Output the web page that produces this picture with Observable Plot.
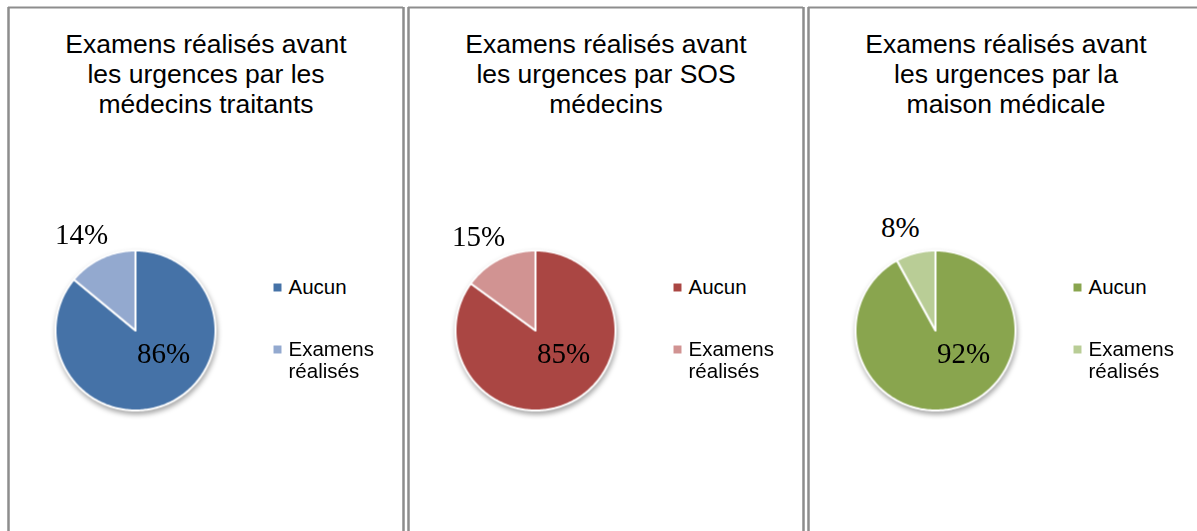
<!DOCTYPE html>
<html>
<head>
<meta charset="utf-8">
<script src="https://cdn.jsdelivr.net/npm/d3@7"></script>
<script src="https://cdn.jsdelivr.net/npm/@observablehq/plot@0.6"></script>
<style>
  html, body { margin: 0; padding: 0; background: #fff; overflow: hidden; }
  #chart g[aria-label="line"] { filter: drop-shadow(1px 3px 2.5px rgba(0,0,0,0.35)); }
</style>
</head>
<body>
<div id="chart"></div>
<script>
// ---- data ----
const panels = ["Médecins traitants", "SOS médecins", "Maison médicale"];
const titles = [
  "Examens réalisés avant\nles urgences par les\nmédecins traitants",
  "Examens réalisés avant\nles urgences par SOS\nmédecins",
  "Examens réalisés avant\nles urgences par la\nmaison médicale"
];
const categories = ["Aucun", "Examens réalisés"];
const legendLabels = ["Aucun", "Examens\nréalisés"];
const aucunValues = [86, 85, 92];
const examensValues = [14, 15, 8];
const aucunColors = ["#4572A7", "#AA4643", "#89A54E"];
const examensColors = ["#93A9CF", "#D19392", "#B9CD96"];

// ---- build tables ----
const seriesValues = [aucunValues, examensValues];
const seriesColors = [aucunColors, examensColors];
const keys = [], keyColors = [];
const slicePts = [], labels = [], legend = [];
panels.forEach((p, i) => {
  const vals = seriesValues.map(s => s[i]);
  const total = d3.sum(vals);
  let a0 = 0;
  categories.forEach((c, j) => {
    const key = p + "|" + c;
    keys.push(key); keyColors.push(seriesColors[j][i]);
    const a1 = a0 + vals[j] / total * 2 * Math.PI;
    const n = Math.max(2, Math.ceil((a1 - a0) / (Math.PI / 180)));
    slicePts.push({panel: p, key, x: 0, y: 0});
    for (let k = 0; k <= n; k++) {
      const a = a0 + (a1 - a0) * k / n;
      slicePts.push({panel: p, key, x: Math.sin(a), y: Math.cos(a)});
    }
    slicePts.push({panel: p, key, x: 0, y: 0});
    const m = (a0 + a1) / 2;
    labels.push({panel: p, j, text: vals[j] + "%", mx: Math.sin(m), my: Math.cos(m)});
    legend.push({panel: p, key, j, label: legendLabels[j]});
    a0 = a1;
  });
});
const titleData = panels.map((p, i) => ({panel: p, title: titles[i]}));

// ---- layout constants (pie radius = 1 unit = 80px) ----
const xDomain = [-1.5875, 3.35];
const yDomain = [-2.5125, 4.0375];
const legendX = 1.775, legendY0 = 0.5375, legendStep = -0.775;
const outR = 1.32;

const plot = Plot.plot({
  width: 1211,
  height: 531,
  marginLeft: 8,
  marginRight: 8,
  marginTop: 7,
  marginBottom: 0,
  style: {maxWidth: "none", background: "#fff", overflow: "visible"},
  fx: {domain: panels, paddingInner: 0.0125, paddingOuter: 0, axis: null},
  x: {domain: xDomain, axis: null},
  y: {domain: yDomain, axis: null},
  color: {type: "ordinal", domain: keys, range: keyColors},
  marks: [
    Plot.ruleX(xDomain, {stroke: "#8d8d8d", strokeWidth: 2.5}),
    Plot.ruleY([yDomain[1]], {stroke: "#8d8d8d", strokeWidth: 2}),
    Plot.text(titleData, {
      fx: "panel", text: "title", frameAnchor: "top", lineAnchor: "top",
      dy: 24, fontSize: 26.5, lineHeight: 30 / 26.5,
      fontFamily: "Liberation Sans, Arial, sans-serif", fill: "#000"
    }),
    Plot.line(slicePts, {
      fx: "panel", x: "x", y: "y", z: "key", fill: "key",
      stroke: "#fff", strokeWidth: 2, strokeLinejoin: "round", curve: "linear"
    }),
    Plot.text(labels.filter(d => d.j === 0), {
      fx: "panel", x: () => 0, y: () => 0, text: "text",
      dx: 28, dy: 23, fontSize: 29, lineAnchor: "middle",
      fontFamily: "Liberation Serif, serif", fill: "#000"
    }),
    Plot.text(labels.filter(d => d.j !== 0), {
      fx: "panel", x: d => d.mx * outR, y: d => d.my * outR, text: "text",
      dx: -9, fontSize: 29, lineAnchor: "middle",
      fontFamily: "Liberation Serif, serif", fill: "#000"
    }),
    Plot.dot(legend, {
      fx: "panel", x: () => legendX, y: d => legendY0 + d.j * legendStep,
      fill: "key", symbol: "square", r: 4.5, stroke: "none"
    }),
    Plot.text(legend, {
      fx: "panel", x: () => legendX, y: d => legendY0 + d.j * legendStep,
      text: "label", textAnchor: "start", lineAnchor: "top",
      dx: 11, dy: -9.5, fontSize: 20.5, lineHeight: 1.08,
      fontFamily: "Liberation Sans, Arial, sans-serif", fill: "#000"
    })
  ]
});
document.getElementById("chart").appendChild(plot);
</script>
</body>
</html>
